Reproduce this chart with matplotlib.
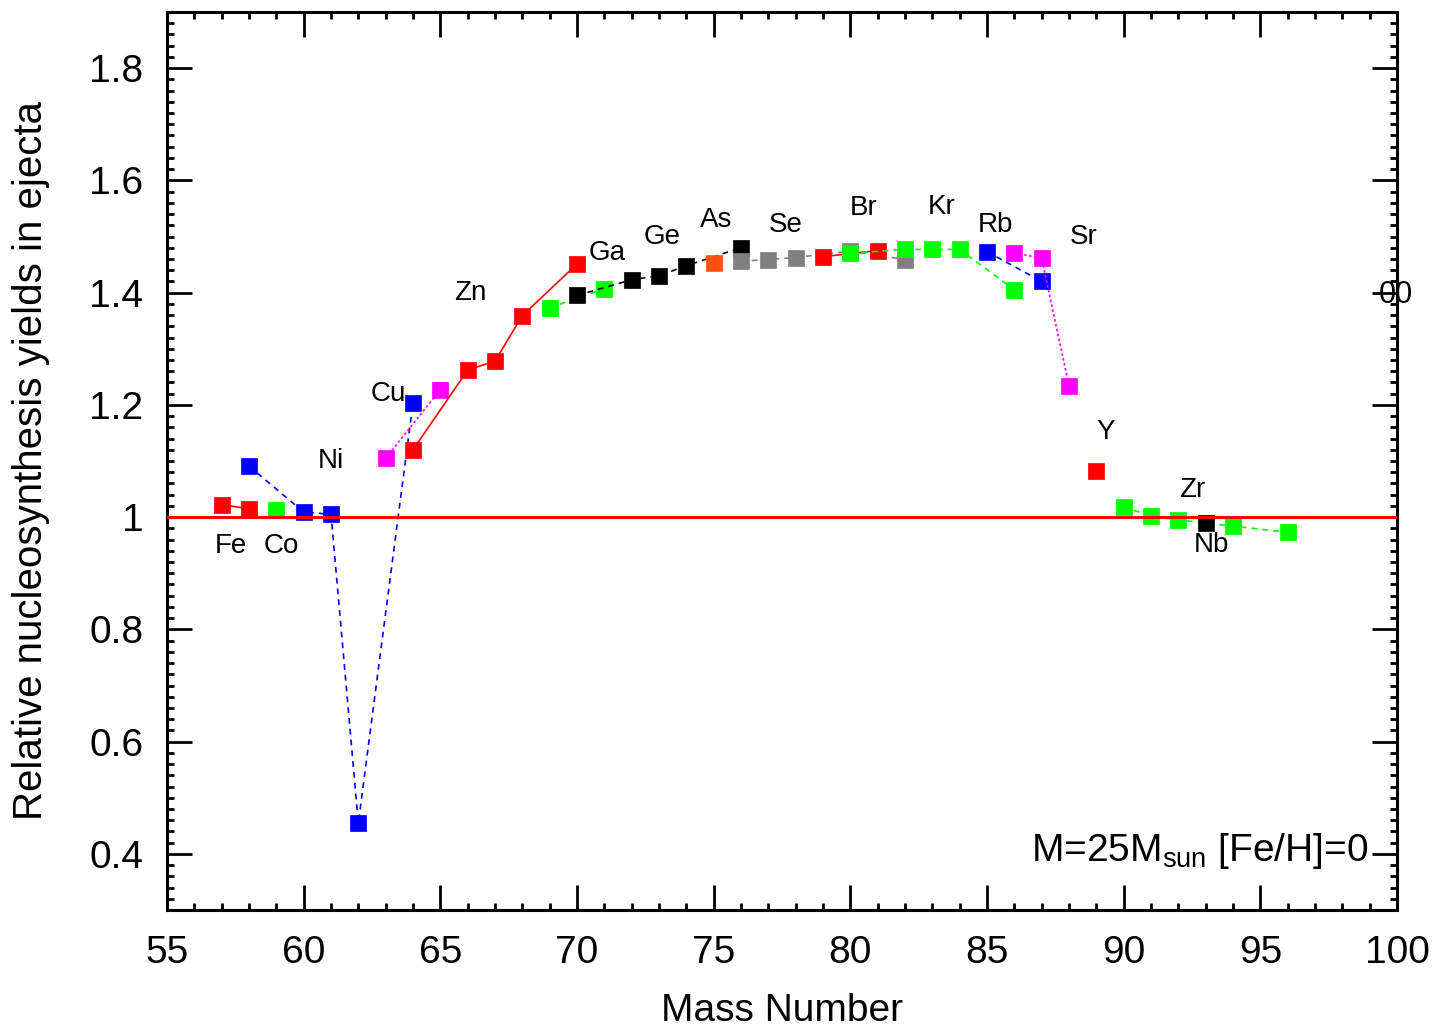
import matplotlib
matplotlib.use("Agg")
import matplotlib.pyplot as plt
from matplotlib.ticker import MultipleLocator, FuncFormatter

plt.rcParams['font.family'] = ['Liberation Sans', 'DejaVu Sans']
plt.rcParams['mathtext.fontset'] = 'custom'
plt.rcParams['mathtext.rm'] = 'Liberation Sans'
plt.rcParams['mathtext.it'] = 'Liberation Sans'

# ---- data ----
fe_x = [57, 58]; fe_y = [1.022, 1.015]
co_x = [59]; co_y = [1.0125]
ni_x = [58, 60, 61, 62, 64]; ni_y = [1.091, 1.009, 1.005, 0.455, 1.204]
cu_x = [63, 65]; cu_y = [1.105, 1.227]
zn_x = [64, 66, 67, 68, 70]; zn_y = [1.12, 1.262, 1.278, 1.359, 1.451]
ga_x = [69, 71]; ga_y = [1.373, 1.407]
ge_x = [70, 72, 73, 74, 76]; ge_y = [1.395, 1.423, 1.430, 1.448, 1.480]
as_x = [75]; as_y = [1.452]
se_x = [76, 77, 78, 80, 82]; se_y = [1.456, 1.459, 1.4625, 1.474, 1.459]
br_x = [79, 81]; br_y = [1.464, 1.475]
kr_x = [80, 82, 83, 84, 86]; kr_y = [1.470, 1.477, 1.477, 1.477, 1.405]
rb_x = [85, 87]; rb_y = [1.473, 1.420]
sr_x = [86, 87, 88]; sr_y = [1.471, 1.461, 1.234]
yy_x = [89]; yy_y = [1.082]
zr_x = [90, 91, 92, 94, 96]; zr_y = [1.018, 1.002, 0.995, 0.984, 0.973]
nb_x = [93]; nb_y = [0.989]

elem_names = ['Fe', 'Co', 'Ni', 'Cu', 'Zn', 'Ga', 'Ge', 'As', 'Se', 'Br',
              'Kr', 'Rb', 'Sr', 'Y', 'Zr', 'Nb']
elem_lx = [57.35, 59.2, 61.0, 63.1, 66.1, 71.1, 73.1, 75.1, 77.65, 80.5,
           83.35, 85.3, 88.55, 89.35, 92.5, 93.2]
elem_ly = [0.948, 0.948, 1.100, 1.220, 1.400, 1.470, 1.500, 1.530, 1.521, 1.550,
           1.552, 1.521, 1.500, 1.152, 1.048, 0.950]

x_ticks = [55, 60, 65, 70, 75, 80, 85, 90, 95, 100]
y_ticks = [0.4, 0.6, 0.8, 1.0, 1.2, 1.4, 1.6, 1.8]

fig = plt.figure(figsize=(14.36, 10.30), dpi=100)
ax = fig.add_axes([167/1436, 120/1030, 1230/1436, 898/1030])

RED = '#ff0000'; GREEN = '#00ff00'; BLUE = '#0000ff'; MAG = '#ff00ff'
GRAY = '#808080'; BLK = '#000000'; ORG = '#ff5010'
ms = 11
lw = 1.2

def series(x, y, color, ls):
    ax.plot(x, y, color=color, linestyle=ls, linewidth=lw, marker='s',
            markersize=ms, markerfacecolor=color, markeredgecolor=color,
            markeredgewidth=0.5, zorder=3)

dash = (0, (3.5, 3))
dot = (0, (1.5, 1.5))
series(fe_x, fe_y, RED, '-')
series(co_x, co_y, GREEN, '-')
series(ni_x, ni_y, BLUE, dash)
series(cu_x, cu_y, MAG, dot)
series(zn_x, zn_y, RED, '-')
series(ga_x, ga_y, GREEN, dash)
series(ge_x, ge_y, BLK, dash)
series(as_x, as_y, ORG, '-')
series(se_x, se_y, GRAY, dash)
series(br_x, br_y, RED, '-')
series(kr_x, kr_y, GREEN, dash)
series(rb_x, rb_y, BLUE, dash)
series(sr_x, sr_y, MAG, dot)
series(yy_x, yy_y, RED, '-')
series(zr_x, zr_y, GREEN, dash)
series(nb_x, nb_y, BLK, '-')

ax.axhline(1.0, color=RED, linewidth=2.2, zorder=4)

for n, lx, ly in zip(elem_names, elem_lx, elem_ly):
    ax.text(lx, ly, n, fontsize=20, ha='center', va='center', zorder=5)

ax.text(99.95, 1.395, '00', fontsize=22, ha='center', va='center', zorder=5)
ax.text(98.95, 0.405, r'M=25M$_{\mathrm{sun}}$ [Fe/H]=0', fontsize=28,
        ha='right', va='center', zorder=5)

ax.set_xlim(55, 100)
ax.set_ylim(0.3, 1.9)
ax.set_xticks(x_ticks)
ax.set_yticks(y_ticks)
ax.xaxis.set_minor_locator(MultipleLocator(1))
ax.yaxis.set_minor_locator(MultipleLocator(0.02))
ax.yaxis.set_major_formatter(FuncFormatter(lambda v, p: '%g' % round(v, 2)))
ax.tick_params(which='both', direction='in', top=True, right=True, width=2,
               labelsize=28)
ax.tick_params(which='major', length=18)
ax.tick_params(which='minor', length=5)
ax.tick_params(axis='x', which='major', pad=18)
ax.tick_params(axis='y', which='major', pad=17)
for s in ax.spines.values():
    s.set_linewidth(2.2)

ax.set_xlabel('Mass Number', fontsize=28)
ax.set_ylabel('Relative nucleosynthesis yields in ejecta', fontsize=29)
ax.xaxis.set_label_coords(0.5, -0.092)
ax.yaxis.set_label_coords(-0.095, 0.5)

fig.savefig('out.png', dpi=100)
